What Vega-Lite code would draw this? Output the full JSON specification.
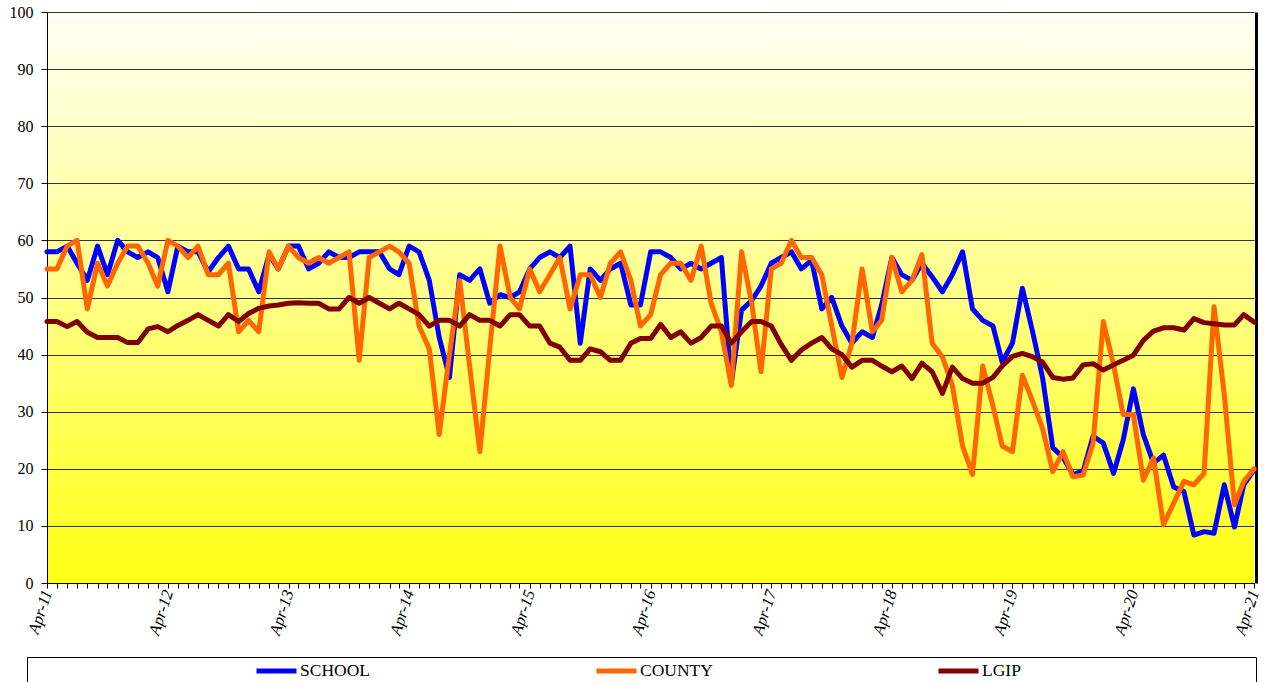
{
  "$schema": "https://vega.github.io/schema/vega-lite/v6.json",
  "padding": {"left": 9, "top": 4, "right": 0, "bottom": 0},
  "background": "white",
  "width": 1207,
  "height": 571,
  "config": {"font": "Liberation Serif", "view": {"stroke": null}},
  "data": {"values": [
      {"month": "2011-04-01", "SCHOOL": 58, "COUNTY": 55, "LGIP": 45.8},
      {"month": "2011-05-01", "SCHOOL": 58, "COUNTY": 55, "LGIP": 45.8},
      {"month": "2011-06-01", "SCHOOL": 59, "COUNTY": 59, "LGIP": 44.9},
      {"month": "2011-07-01", "SCHOOL": 56, "COUNTY": 60, "LGIP": 45.8},
      {"month": "2011-08-01", "SCHOOL": 53, "COUNTY": 48, "LGIP": 43.9},
      {"month": "2011-09-01", "SCHOOL": 59, "COUNTY": 56, "LGIP": 43},
      {"month": "2011-10-01", "SCHOOL": 54, "COUNTY": 52, "LGIP": 43},
      {"month": "2011-11-01", "SCHOOL": 60, "COUNTY": 56, "LGIP": 43},
      {"month": "2011-12-01", "SCHOOL": 58, "COUNTY": 59, "LGIP": 42.1},
      {"month": "2012-01-01", "SCHOOL": 57, "COUNTY": 59, "LGIP": 42.1},
      {"month": "2012-02-01", "SCHOOL": 58, "COUNTY": 56, "LGIP": 44.5},
      {"month": "2012-03-01", "SCHOOL": 57, "COUNTY": 52, "LGIP": 44.9},
      {"month": "2012-04-01", "SCHOOL": 51, "COUNTY": 60, "LGIP": 44},
      {"month": "2012-05-01", "SCHOOL": 59, "COUNTY": 59, "LGIP": 45.1},
      {"month": "2012-06-01", "SCHOOL": 58, "COUNTY": 57, "LGIP": 46},
      {"month": "2012-07-01", "SCHOOL": 58, "COUNTY": 59, "LGIP": 47},
      {"month": "2012-08-01", "SCHOOL": 54.5, "COUNTY": 54, "LGIP": 46},
      {"month": "2012-09-01", "SCHOOL": 57, "COUNTY": 54, "LGIP": 45},
      {"month": "2012-10-01", "SCHOOL": 59, "COUNTY": 56, "LGIP": 47},
      {"month": "2012-11-01", "SCHOOL": 55, "COUNTY": 44, "LGIP": 45.8},
      {"month": "2012-12-01", "SCHOOL": 55, "COUNTY": 46, "LGIP": 47.2},
      {"month": "2013-01-01", "SCHOOL": 51, "COUNTY": 44, "LGIP": 48.1},
      {"month": "2013-02-01", "SCHOOL": 57.5, "COUNTY": 58, "LGIP": 48.5},
      {"month": "2013-03-01", "SCHOOL": 55, "COUNTY": 55, "LGIP": 48.7},
      {"month": "2013-04-01", "SCHOOL": 59, "COUNTY": 59, "LGIP": 49},
      {"month": "2013-05-01", "SCHOOL": 59, "COUNTY": 57, "LGIP": 49.1},
      {"month": "2013-06-01", "SCHOOL": 55, "COUNTY": 56, "LGIP": 49},
      {"month": "2013-07-01", "SCHOOL": 56, "COUNTY": 57, "LGIP": 49},
      {"month": "2013-08-01", "SCHOOL": 58, "COUNTY": 56, "LGIP": 48},
      {"month": "2013-09-01", "SCHOOL": 57, "COUNTY": 57, "LGIP": 48},
      {"month": "2013-10-01", "SCHOOL": 57, "COUNTY": 58, "LGIP": 50},
      {"month": "2013-11-01", "SCHOOL": 58, "COUNTY": 39, "LGIP": 49},
      {"month": "2013-12-01", "SCHOOL": 58, "COUNTY": 57, "LGIP": 50},
      {"month": "2014-01-01", "SCHOOL": 58, "COUNTY": 58, "LGIP": 49},
      {"month": "2014-02-01", "SCHOOL": 55, "COUNTY": 59, "LGIP": 48},
      {"month": "2014-03-01", "SCHOOL": 54, "COUNTY": 58, "LGIP": 49},
      {"month": "2014-04-01", "SCHOOL": 59, "COUNTY": 56, "LGIP": 48},
      {"month": "2014-05-01", "SCHOOL": 58, "COUNTY": 45, "LGIP": 47},
      {"month": "2014-06-01", "SCHOOL": 53, "COUNTY": 41, "LGIP": 45},
      {"month": "2014-07-01", "SCHOOL": 43, "COUNTY": 26, "LGIP": 46},
      {"month": "2014-08-01", "SCHOOL": 36, "COUNTY": 40, "LGIP": 46},
      {"month": "2014-09-01", "SCHOOL": 54, "COUNTY": 53, "LGIP": 45},
      {"month": "2014-10-01", "SCHOOL": 53, "COUNTY": 38, "LGIP": 47},
      {"month": "2014-11-01", "SCHOOL": 55, "COUNTY": 23, "LGIP": 46},
      {"month": "2014-12-01", "SCHOOL": 49, "COUNTY": 41, "LGIP": 46},
      {"month": "2015-01-01", "SCHOOL": 50.5, "COUNTY": 59, "LGIP": 45},
      {"month": "2015-02-01", "SCHOOL": 50, "COUNTY": 50, "LGIP": 47},
      {"month": "2015-03-01", "SCHOOL": 51, "COUNTY": 48, "LGIP": 47},
      {"month": "2015-04-01", "SCHOOL": 55, "COUNTY": 55, "LGIP": 45},
      {"month": "2015-05-01", "SCHOOL": 57, "COUNTY": 51, "LGIP": 45},
      {"month": "2015-06-01", "SCHOOL": 58, "COUNTY": 54, "LGIP": 42},
      {"month": "2015-07-01", "SCHOOL": 57, "COUNTY": 57, "LGIP": 41.3},
      {"month": "2015-08-01", "SCHOOL": 59, "COUNTY": 48, "LGIP": 39},
      {"month": "2015-09-01", "SCHOOL": 42, "COUNTY": 54, "LGIP": 39},
      {"month": "2015-10-01", "SCHOOL": 55, "COUNTY": 54, "LGIP": 41},
      {"month": "2015-11-01", "SCHOOL": 53, "COUNTY": 50, "LGIP": 40.5},
      {"month": "2015-12-01", "SCHOOL": 55, "COUNTY": 56, "LGIP": 39},
      {"month": "2016-01-01", "SCHOOL": 56, "COUNTY": 58, "LGIP": 39},
      {"month": "2016-02-01", "SCHOOL": 48.7, "COUNTY": 53, "LGIP": 42},
      {"month": "2016-03-01", "SCHOOL": 48.7, "COUNTY": 45, "LGIP": 42.8},
      {"month": "2016-04-01", "SCHOOL": 58, "COUNTY": 47, "LGIP": 42.8},
      {"month": "2016-05-01", "SCHOOL": 58, "COUNTY": 54, "LGIP": 45.3},
      {"month": "2016-06-01", "SCHOOL": 57, "COUNTY": 56, "LGIP": 43},
      {"month": "2016-07-01", "SCHOOL": 55, "COUNTY": 56, "LGIP": 44},
      {"month": "2016-08-01", "SCHOOL": 56, "COUNTY": 53, "LGIP": 42},
      {"month": "2016-09-01", "SCHOOL": 55, "COUNTY": 59, "LGIP": 43},
      {"month": "2016-10-01", "SCHOOL": 56, "COUNTY": 49, "LGIP": 45},
      {"month": "2016-11-01", "SCHOOL": 57, "COUNTY": 44, "LGIP": 45},
      {"month": "2016-12-01", "SCHOOL": 35, "COUNTY": 34.6, "LGIP": 42},
      {"month": "2017-01-01", "SCHOOL": 47.8, "COUNTY": 58, "LGIP": 44},
      {"month": "2017-02-01", "SCHOOL": 49.5, "COUNTY": 49, "LGIP": 45.8},
      {"month": "2017-03-01", "SCHOOL": 52, "COUNTY": 37, "LGIP": 45.8},
      {"month": "2017-04-01", "SCHOOL": 56, "COUNTY": 55, "LGIP": 45},
      {"month": "2017-05-01", "SCHOOL": 57, "COUNTY": 56, "LGIP": 41.8},
      {"month": "2017-06-01", "SCHOOL": 58, "COUNTY": 60, "LGIP": 39},
      {"month": "2017-07-01", "SCHOOL": 55, "COUNTY": 57, "LGIP": 40.8},
      {"month": "2017-08-01", "SCHOOL": 56.5, "COUNTY": 57, "LGIP": 42},
      {"month": "2017-09-01", "SCHOOL": 48, "COUNTY": 54, "LGIP": 43},
      {"month": "2017-10-01", "SCHOOL": 50, "COUNTY": 45, "LGIP": 41},
      {"month": "2017-11-01", "SCHOOL": 45, "COUNTY": 36, "LGIP": 40},
      {"month": "2017-12-01", "SCHOOL": 42, "COUNTY": 42, "LGIP": 37.8},
      {"month": "2018-01-01", "SCHOOL": 44, "COUNTY": 55, "LGIP": 39},
      {"month": "2018-02-01", "SCHOOL": 43, "COUNTY": 44, "LGIP": 39},
      {"month": "2018-03-01", "SCHOOL": 48.7, "COUNTY": 46, "LGIP": 38},
      {"month": "2018-04-01", "SCHOOL": 57, "COUNTY": 57, "LGIP": 37},
      {"month": "2018-05-01", "SCHOOL": 54, "COUNTY": 51, "LGIP": 38},
      {"month": "2018-06-01", "SCHOOL": 53, "COUNTY": 53, "LGIP": 35.8},
      {"month": "2018-07-01", "SCHOOL": 56, "COUNTY": 57.5, "LGIP": 38.5},
      {"month": "2018-08-01", "SCHOOL": 53.6, "COUNTY": 42, "LGIP": 37},
      {"month": "2018-09-01", "SCHOOL": 51, "COUNTY": 39.6, "LGIP": 33.2},
      {"month": "2018-10-01", "SCHOOL": 54, "COUNTY": 34.6, "LGIP": 37.8},
      {"month": "2018-11-01", "SCHOOL": 58, "COUNTY": 24, "LGIP": 35.8},
      {"month": "2018-12-01", "SCHOOL": 48, "COUNTY": 19, "LGIP": 35},
      {"month": "2019-01-01", "SCHOOL": 46, "COUNTY": 38, "LGIP": 35},
      {"month": "2019-02-01", "SCHOOL": 45, "COUNTY": 31, "LGIP": 36},
      {"month": "2019-03-01", "SCHOOL": 38.7, "COUNTY": 24, "LGIP": 38},
      {"month": "2019-04-01", "SCHOOL": 42, "COUNTY": 23, "LGIP": 39.7},
      {"month": "2019-05-01", "SCHOOL": 51.6, "COUNTY": 36.4, "LGIP": 40.2},
      {"month": "2019-06-01", "SCHOOL": 44, "COUNTY": 31.8, "LGIP": 39.6},
      {"month": "2019-07-01", "SCHOOL": 36, "COUNTY": 27.1, "LGIP": 38.7},
      {"month": "2019-08-01", "SCHOOL": 23.7, "COUNTY": 19.5, "LGIP": 36},
      {"month": "2019-09-01", "SCHOOL": 22, "COUNTY": 23, "LGIP": 35.7},
      {"month": "2019-10-01", "SCHOOL": 19, "COUNTY": 18.6, "LGIP": 35.9},
      {"month": "2019-11-01", "SCHOOL": 19.6, "COUNTY": 18.9, "LGIP": 38.2},
      {"month": "2019-12-01", "SCHOOL": 25.7, "COUNTY": 24.5, "LGIP": 38.4},
      {"month": "2020-01-01", "SCHOOL": 24.5, "COUNTY": 45.8, "LGIP": 37.3},
      {"month": "2020-02-01", "SCHOOL": 19.2, "COUNTY": 38.2, "LGIP": 38.2},
      {"month": "2020-03-01", "SCHOOL": 25, "COUNTY": 29.5, "LGIP": 39},
      {"month": "2020-04-01", "SCHOOL": 34, "COUNTY": 29.5, "LGIP": 39.9},
      {"month": "2020-05-01", "SCHOOL": 26, "COUNTY": 18, "LGIP": 42.5},
      {"month": "2020-06-01", "SCHOOL": 21, "COUNTY": 21.9, "LGIP": 44.1},
      {"month": "2020-07-01", "SCHOOL": 22.4, "COUNTY": 10.2, "LGIP": 44.7},
      {"month": "2020-08-01", "SCHOOL": 16.8, "COUNTY": 14, "LGIP": 44.7},
      {"month": "2020-09-01", "SCHOOL": 16, "COUNTY": 17.8, "LGIP": 44.3},
      {"month": "2020-10-01", "SCHOOL": 8.4, "COUNTY": 17.2, "LGIP": 46.3},
      {"month": "2020-11-01", "SCHOOL": 9, "COUNTY": 19.2, "LGIP": 45.6},
      {"month": "2020-12-01", "SCHOOL": 8.7, "COUNTY": 48.4, "LGIP": 45.4},
      {"month": "2021-01-01", "SCHOOL": 17.2, "COUNTY": 33, "LGIP": 45.2},
      {"month": "2021-02-01", "SCHOOL": 9.8, "COUNTY": 13.7, "LGIP": 45.2},
      {"month": "2021-03-01", "SCHOOL": 17.2, "COUNTY": 17.8, "LGIP": 47},
      {"month": "2021-04-01", "SCHOOL": 19.8, "COUNTY": 20, "LGIP": 45.7}
  ]},
  "view": {
    "stroke": null,
    "fill": {
      "gradient": "linear", "x1": 0, "y1": 0, "x2": 0, "y2": 1,
      "stops": [{"offset": 0, "color": "#fffff5"}, {"offset": 1, "color": "#ffff14"}]
    }
  },
  "transform": [{"fold": ["SCHOOL", "COUNTY", "LGIP"], "as": ["series", "value"]}],
  "layer": [
    {
      "mark": {"type": "line", "strokeWidth": 5, "strokeJoin": "round", "strokeCap": "round"},
      "encoding": {
        "x": {
          "field": "month", "type": "temporal",
          "scale": {"type": "utc", "domain": [{"year": 2011, "month": 4, "date": 1, "utc": true}, {"year": 2021, "month": 4, "date": 1, "utc": true}]},
          "axis": {
            "title": null, "grid": false,
            "tickCount": {"interval": "month", "step": 1},
            "labelExpr": "utcmonth(datum.value) == 3 ? utcFormat(datum.value, '%b-%y') : ''",
            "labelAngle": -72, "labelAlign": "right", "labelBaseline": "middle",
            "labelFont": "Liberation Serif", "labelFontStyle": "italic", "labelFontSize": 16.5, "labelColor": "black",
            "labelOverlap": false, "labelBound": false, "labelFlush": false, "labelPadding": 2,
            "tickSize": 5, "tickColor": "black", "domainColor": "black", "domainWidth": 1
          }
        },
        "y": {
          "field": "value", "type": "quantitative",
          "scale": {"domain": [0, 100], "nice": false},
          "axis": {
            "title": null, "values": [0, 10, 20, 30, 40, 50, 60, 70, 80, 90, 100],
            "grid": true, "gridColor": "#333333", "gridWidth": 1, "gridOpacity": 1,
            "domainColor": "black", "domainWidth": 1, "tickColor": "black", "tickSize": 6,
            "labelFont": "Liberation Serif", "labelFontSize": 16, "labelColor": "black", "labelPadding": 8
          }
        },
        "color": {
          "field": "series", "type": "nominal",
          "scale": {"domain": ["SCHOOL", "COUNTY", "LGIP"], "range": ["#0000ff", "#ff6600", "#800000"]},
          "legend": {
            "orient": "none", "legendX": -20, "legendY": 645, "direction": "horizontal",
            "title": "\u00a0", "titleOrient": "right", "titlePadding": 231, "titleFontSize": 17.5, "titleFont": "Liberation Serif", "titleLimit": 400,
            "strokeColor": "black", "fillColor": "white", "padding": 4,
            "symbolType": "stroke", "symbolSize": 1600, "symbolStrokeWidth": 5, "symbolOpacity": 1,
            "symbolOffset": 223,
            "clipHeight": 20,
            "labelFont": "Liberation Serif", "labelFontSize": 17.5, "labelColor": "black", "labelOffset": 1, "labelLimit": 600,
            "columnPadding": 0
          }
        }
      }
    },
    {
      "mark": {"type": "line", "opacity": 0},
      "encoding": {
        "x": {"field": "month", "type": "temporal"},
        "y": {
          "field": "value", "type": "quantitative",
          "axis": {"orient": "right", "title": null, "labels": false, "ticks": false, "grid": false, "domainColor": "black", "domainWidth": 3, "offset": 2}
        },
        "detail": {"field": "series"}
      }
    }
  ],
  "resolve": {"axis": {"y": "independent"}}
}
